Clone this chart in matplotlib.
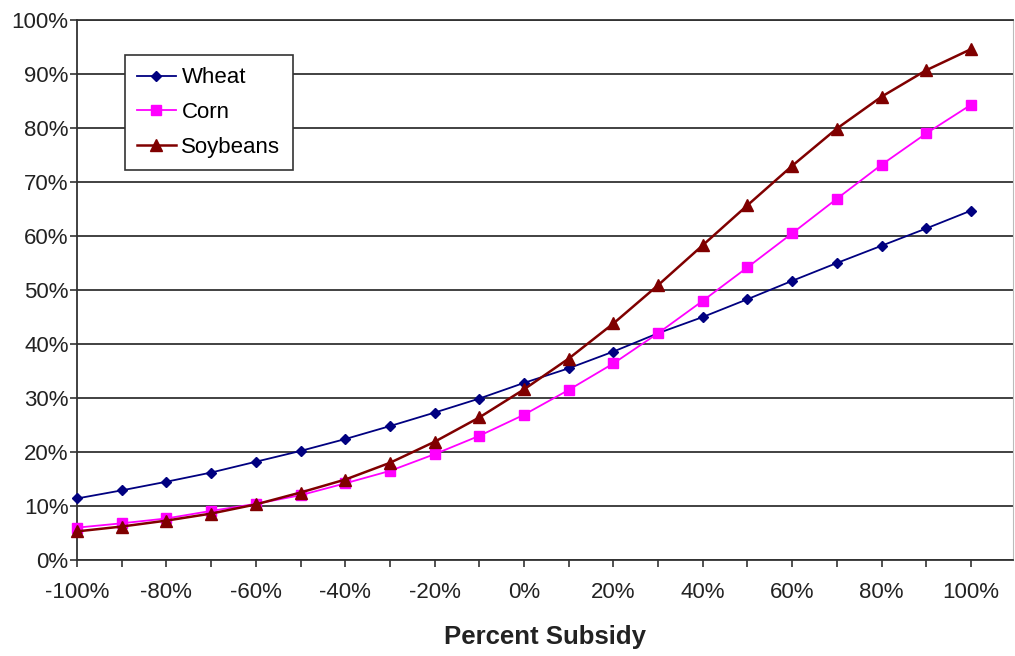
import numpy as np
import matplotlib
matplotlib.use('Agg')
import matplotlib.pyplot as plt
from matplotlib.ticker import FuncFormatter, MultipleLocator

plt.rcParams['font.family'] = ['Liberation Sans', 'DejaVu Sans']

# subsidy levels, percent
subsidy = [-100, -90, -80, -70, -60, -50, -40, -30, -20, -10, 0,
           10, 20, 30, 40, 50, 60, 70, 80, 90, 100]

# participation, percent
wheat = [11.4, 12.9, 14.5, 16.2, 18.2, 20.2, 22.4, 24.8, 27.3, 29.9, 32.8,
         35.5, 38.6, 42.0, 45.0, 48.3, 51.7, 55.0, 58.2, 61.4, 64.7]
corn = [6.0, 6.8, 7.7, 9.1, 10.4, 12.0, 14.2, 16.5, 19.6, 23.0, 26.9,
        31.5, 36.4, 42.0, 48.0, 54.2, 60.5, 66.9, 73.2, 79.0, 84.3]
soybeans = [5.3, 6.2, 7.3, 8.6, 10.3, 12.5, 14.9, 18.0, 21.9, 26.4, 31.6,
            37.3, 43.8, 50.9, 58.3, 65.7, 73.0, 79.9, 85.8, 90.7, 94.6]

fig = plt.figure(figsize=(10.15, 6.56), dpi=100)
ax = fig.add_axes([0.0759, 0.1463, 0.9221, 0.8232])

ax.plot(subsidy, wheat, color='#000080', marker='D', markersize=5.5, lw=1.3,
        label='Wheat', clip_on=False, zorder=3)
ax.plot(subsidy, corn, color='#FF00FF', marker='s', markersize=7, lw=1.3,
        label='Corn', clip_on=False, zorder=3)
ax.plot(subsidy, soybeans, color='#800000', marker='^', markersize=8, lw=1.8,
        label='Soybeans', clip_on=False, zorder=4)

ax.set_xlim(-100, 109.4)
ax.set_ylim(0, 100)

pct = FuncFormatter(lambda v, p: '%d%%' % round(v))
ax.xaxis.set_major_locator(MultipleLocator(20))
ax.xaxis.set_minor_locator(MultipleLocator(10))
ax.xaxis.set_major_formatter(pct)
ax.yaxis.set_major_locator(MultipleLocator(10))
ax.yaxis.set_major_formatter(pct)

ax.tick_params(axis='both', which='both', direction='out', length=5, width=1.2,
               color='#333333', labelsize=16, labelcolor='#222222')
ax.tick_params(axis='x', pad=11)
ax.tick_params(axis='y', pad=1)

ax.grid(axis='y', color='#333333', lw=1.3)
ax.set_axisbelow(True)

for s in ['left', 'bottom', 'top']:
    ax.spines[s].set_color('#333333')
    ax.spines[s].set_linewidth(1.3)
ax.spines['right'].set_color('#bbbbbb')

ax.set_xlabel('Percent Subsidy', fontsize=18.5, fontweight='bold', color='#222222', labelpad=16)

leg = ax.legend(loc='upper left', bbox_to_anchor=(0.051, 0.935), borderaxespad=0,
                fontsize=16, fancybox=False, edgecolor='#333333', framealpha=1,
                handlelength=1.75, labelspacing=0.62, borderpad=0.55, handletextpad=0.25)
leg.get_frame().set_linewidth(1.2)

plt.savefig('out.png', dpi=100)
